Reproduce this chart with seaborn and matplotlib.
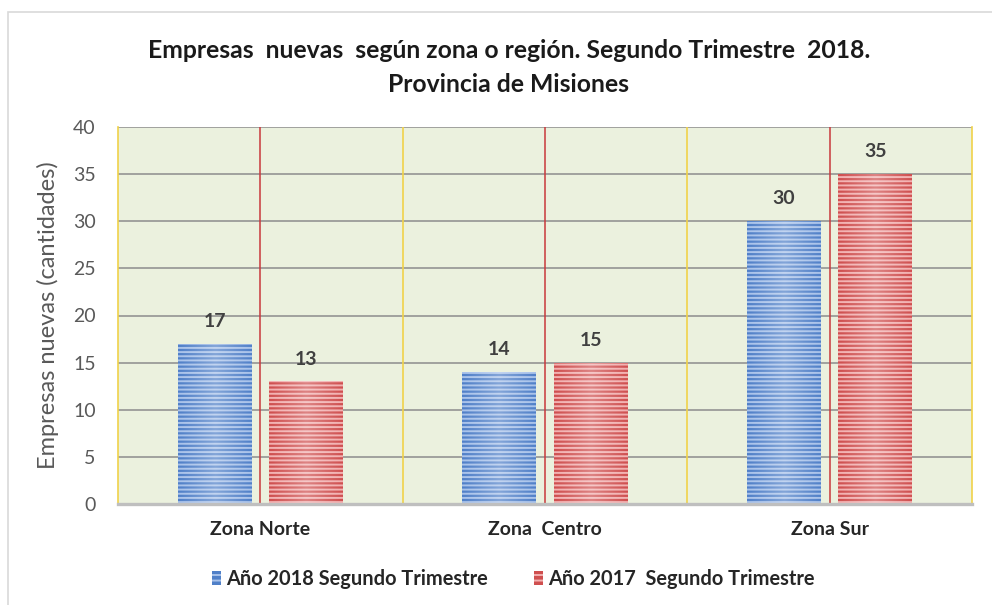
import matplotlib
matplotlib.use("Agg")
import matplotlib.pyplot as plt
from matplotlib.patches import Rectangle
from matplotlib.colors import LinearSegmentedColormap
import seaborn as sns
import numpy as np
import pandas as pd

# Data
zonas = ["Zona Norte", "Zona  Centro", "Zona Sur"]
serie_2018 = [17, 14, 30]
serie_2017 = [13, 15, 35]
nombres_series = ["Año 2018 Segundo Trimestre", "Año 2017  Segundo Trimestre"]
y_ticks = [0, 5, 10, 15, 20, 25, 30, 35, 40]

df = pd.DataFrame({
    "zona": zonas * 2,
    "valor": serie_2018 + serie_2017,
    "serie": [nombres_series[0]] * len(zonas) + [nombres_series[1]] * len(zonas),
})

sns.set_theme(style="white")
plt.rcParams["font.family"] = ["Lato", "DejaVu Sans"]
plt.rcParams["hatch.linewidth"] = 1.4

colores = {nombres_series[0]: "#5080c8", nombres_series[1]: "#cf4f4f"}
rayas = {nombres_series[0]: "#a8c2ea", nombres_series[1]: "#f2b0b0"}

fig = plt.figure(figsize=(9.92, 6.05), dpi=100)
ax = fig.add_axes([118 / 992, 1 - 504 / 605, (972 - 118) / 992, (504 - 127) / 605])
ax.set_facecolor("#ebf1de")

sns.barplot(data=df, x="zona", y="valor", hue="serie", palette=colores,
            width=0.64, dodge=True, ax=ax, legend=True, saturation=1)

# Narrow the bars, stripe them and give them a soft horizontal sheen
bar_w = 0.26
brillo = LinearSegmentedColormap.from_list(
    "brillo", [(1, 1, 1, 0.0), (1, 1, 1, 0.3), (1, 1, 1, 0.0)])
grad = np.linspace(0, 1, 64).reshape(1, -1)
for cont, nombre in zip(ax.containers, nombres_series):
    for bar in cont:
        cx = bar.get_x() + bar.get_width() / 2
        bar.set_width(bar_w)
        bar.set_x(cx - bar_w / 2)
        bar.set_edgecolor(rayas[nombre])
        bar.set_linewidth(0)
        bar.set_hatch("----")
        bar.set_zorder(3)
        im = ax.imshow(grad, cmap=brillo, aspect="auto", zorder=4,
                       extent=(bar.get_x(), bar.get_x() + bar_w, 0, bar.get_height()))
        im.set_clip_path(bar)
    ax.bar_label(cont, padding=10, fontsize=14, fontweight="bold",
                 color="#404040", zorder=5)

ax.set_xlim(-0.5, 2.5)
ax.set_ylim(0, 40)
ax.set_yticks(y_ticks)
ax.set_yticklabels([str(t) for t in y_ticks], fontsize=14, color="#595959")
ax.tick_params(axis="y", length=0, pad=16)
ax.tick_params(axis="x", length=0, pad=12)
for lbl in ax.get_xticklabels():
    lbl.set_fontweight("bold")
    lbl.set_fontsize(14)
    lbl.set_color("#262626")
ax.set_xlabel("")
ax.set_ylabel("Empresas nuevas (cantidades)", fontsize=17, color="#595959", labelpad=10)

# Grid and dividers
for t in y_ticks[1:]:
    ax.axhline(t, color="#8c8c8c", linewidth=1.1, zorder=1)
for xb in [0.5, 1.5]:
    ax.axvline(xb, color="#f0d24a", linewidth=1.2, zorder=1)
for xc in [0, 1, 2]:
    ax.axvline(xc, color="#c8383c", linewidth=1.1, zorder=2)

for side in ["left", "right"]:
    ax.spines[side].set_color("#f0d24a")
    ax.spines[side].set_linewidth(1.2)
ax.spines["top"].set_visible(False)
ax.spines["bottom"].set_color("#bfbfbf")
ax.spines["bottom"].set_linewidth(2.4)
ax.spines["bottom"].set_zorder(6)

# Legend at the bottom
ax.get_legend().remove()
hs = [Rectangle((0, 0), 1, 1, facecolor=colores[n], edgecolor=rayas[n], hatch="---", linewidth=0)
      for n in nombres_series]
leg = fig.legend(hs, nombres_series, loc="center", bbox_to_anchor=(513 / 992, 1 - 579 / 605),
                 ncol=2, frameon=False, handlelength=0.45, handleheight=0.7,
                 handletextpad=0.25, columnspacing=2.3,
                 prop={"weight": "bold", "size": 14.4})
for txt in leg.get_texts():
    txt.set_color("#262626")

# Title
fig.text(509 / 992, 1 - 50 / 605,
         "Empresas  nuevas  según zona o región. Segundo Trimestre  2018.",
         ha="center", va="center", fontsize=17.8, fontweight="bold", color="#1a1a1a")
fig.text(509 / 992, 1 - 84 / 605, "Provincia de Misiones",
         ha="center", va="center", fontsize=17.8, fontweight="bold", color="#1a1a1a")

# Outer frame of the chart area
fig.add_artist(Rectangle((8 / 992, -0.05), 1.0, 1 - 12 / 605 + 0.05,
                         transform=fig.transFigure, facecolor="none",
                         edgecolor="#d9d9d9", linewidth=1.2, zorder=0))

fig.savefig("out.png", dpi=100)
